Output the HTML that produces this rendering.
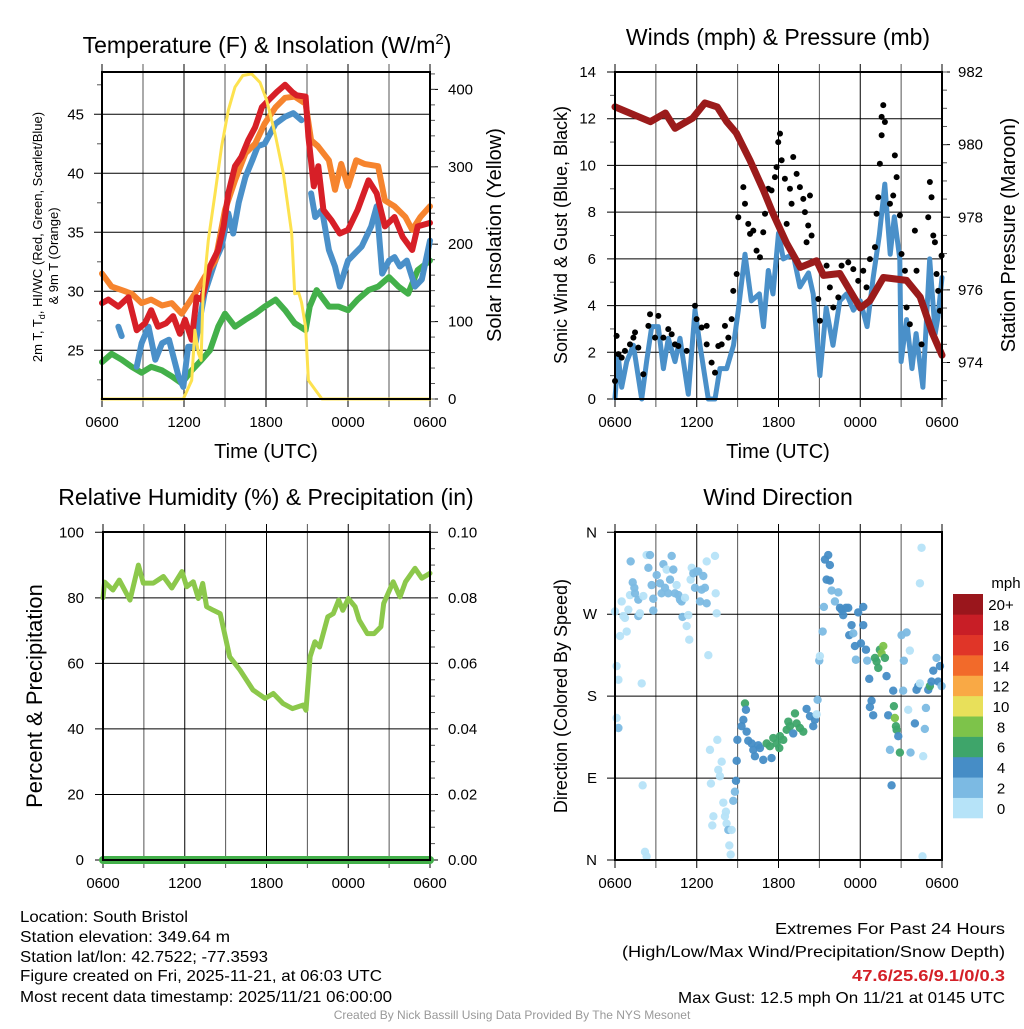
<!DOCTYPE html>
<html><head><meta charset="utf-8"><style>
html,body{margin:0;padding:0;background:#fff;}
svg text{font-family:"Liberation Sans",sans-serif;fill:#000;}
</style></head><body>
<svg id="fig" xmlns="http://www.w3.org/2000/svg" width="1024" height="1024" viewBox="0 0 1024 1024">
<rect x="0" y="0" width="1024" height="1024" fill="#fff"/>
<g id="p1"></g>
<g id="p2"></g>
<g id="p3"></g>
<g id="p4"></g>
<g font-size="16">
<text x="20" y="922" textLength="168" lengthAdjust="spacingAndGlyphs">Location: South Bristol</text>
<text x="20" y="942" textLength="210" lengthAdjust="spacingAndGlyphs">Station elevation: 349.64 m</text>
<text x="20" y="962" textLength="248" lengthAdjust="spacingAndGlyphs">Station lat/lon: 42.7522; -77.3593</text>
<text x="20" y="981" textLength="362" lengthAdjust="spacingAndGlyphs">Figure created on Fri, 2025-11-21, at 06:03 UTC</text>
<text x="20" y="1002" textLength="372" lengthAdjust="spacingAndGlyphs">Most recent data timestamp: 2025/11/21 06:00:00</text>
</g>
<g font-size="16" text-anchor="end">
<text x="1005" y="934" textLength="230" lengthAdjust="spacingAndGlyphs">Extremes For Past 24 Hours</text>
<text x="1005" y="957" textLength="383" lengthAdjust="spacingAndGlyphs">(High/Low/Max Wind/Precipitation/Snow Depth)</text>
<text x="1005" y="981" font-weight="bold" textLength="153" lengthAdjust="spacingAndGlyphs" style="fill:#d42027">47.6/25.6/9.1/0/0.3</text>
<text x="1005" y="1003" textLength="327" lengthAdjust="spacingAndGlyphs">Max Gust: 12.5 mph On 11/21 at 0145 UTC</text>
</g>
<text x="512" y="1019" font-size="12" text-anchor="middle" style="fill:#999">Created By Nick Bassill Using Data Provided By The NYS Mesonet</text>
</svg>
<script>
// ---------- Panel 1 data ----------
const timeTicks = [0, 6, 12, 18, 24];
const timeTickLabels = ["0600", "1200", "1800", "0000", "0600"];
const tempTicks = [25, 30, 35, 40, 45];
const insTicks = [0, 100, 200, 300, 400];

const redT = [0,0.46,1.2,1.93,2.54,3.15,3.6,4.1,4.7,5.2,5.7,6.07,6.56,6.93,7.3,7.9,8.5,8.9,9.24,9.73,10.2,10.7,11.2,11.7,12.2,12.8,13.4,13.9,14.25,14.9,15.1,15.5,15.83,16.2,16.8,17.4,18.0,18.7,19.5,20.1,20.7,21.4,22.0,22.7,23.1,24];
const redV = [29.0,29.3,28.7,29.5,26.7,27.3,28.4,27,27.3,27.9,26.4,27.6,25.9,29.5,29.3,32.1,33.5,35.5,38.3,40.6,41.4,42.8,43.9,45.6,46.2,46.9,47.5,46.9,46.6,46.5,43.1,38.9,40.6,36.9,36.0,34.9,35.2,36.9,39.4,38.3,35.5,36.3,34.6,33.5,35.5,35.8];

const orT = [0,0.7,1.44,2.17,2.9,3.6,4.4,5.1,5.83,6.8,7.5,8.3,9.0,9.73,10.5,11.2,11.9,12.7,13.4,14.1,14.9,15.3,15.8,16.6,17.05,17.5,18.0,18.6,19.2,20.2,20.7,21.4,22.2,22.7,23.3,24];
const orV = [31.5,30.4,30.1,29.8,29,29.3,28.8,29,28.1,29.8,31.2,32.6,36.9,39.4,41.7,42.5,44.2,45.6,46.4,46.5,45.9,42.8,42.3,41.1,38.6,40.8,38.9,41.1,40.8,40.6,37.7,37.2,36.3,35.2,36.3,37.2];

const blT = [1.2,1.44,2.0,2.54,2.9,3.4,3.9,4.4,4.9,5.6,5.95,6.3,6.8,7.5,8.3,8.75,9.24,9.6,10,10.5,11,11.4,11.9,12.7,13.4,14,14.6,15.0,15.3,15.6,16.1,16.6,17.05,17.4,18,18.5,19,19.7,20.1,20.5,21,21.4,21.8,22.3,22.9,23.4,24];
const blV = [27,26.2,null,23.6,25.6,27,24.2,25.6,25.9,22.8,21.9,25.3,25.3,29.8,32.6,33.8,36.6,34.9,37.5,39.7,41.1,42.3,42.5,44.2,44.8,45.1,44.5,null,38.3,36.3,36.9,33.5,32.1,30.4,32.6,33.2,33.8,35.5,37.2,31.5,32.6,32.9,32.1,32.6,30.4,31,34.3];

const grT = [0,0.7,1.44,2.17,2.9,3.6,4.4,5.1,5.83,6.56,7.3,7.9,8.5,9.0,9.73,10.5,11.2,11.9,12.7,13.4,14.1,14.9,15.2,15.7,16.6,17.3,18,18.7,19.5,20.2,21,21.7,22.4,23.1,24];
const grV = [24,24.7,24.2,23.6,23.1,23.6,23.3,22.8,22.2,23.3,24.2,25,27,28.1,27,27.6,28.1,28.7,29.3,28.4,27.3,26.7,28.7,30.1,28.7,28.7,28.4,29.3,30.1,30.4,31.2,30.4,29.8,31.8,32.6];

const insT = [0,5.95,6.56,6.8,7.05,7.25,7.4,7.78,8.27,8.75,9.24,9.73,10.3,10.95,11.56,12.05,12.66,13.27,13.88,14.1,14.4,14.6,14.9,15.1,15.6,16.1,24];
const insV = [0,0,24,89,59,50,136,205,265,326,373,403,418,420,409,386,343,291,214,136,137,125,93,24,12,0,0];

// ---------- Panel 2 data ----------
const windTicks = [0, 2, 4, 6, 8, 10, 12, 14];
const presTicks = [974, 976, 978, 980, 982];
const presT = [0,2.6,3.7,4.4,5.7,6.6,7.5,8.2,8.9,9.9,10.9,11.6,12.6,13.6,14.8,15.3,16.5,18,18.7,19.7,21.4,22.4,23.3,24];
const presV = [981.04,980.63,980.87,980.45,980.73,981.15,981.04,980.63,980.32,979.57,978.74,978.1,977.28,976.62,976.8,976.4,976.45,975.5,975.7,976.34,976.26,975.8,974.8,974.2];
const windT = [0,0.24,0.49,0.86,1.35,1.96,2.32,2.69,3.18,3.55,3.91,4.4,4.77,5.38,5.87,6.24,6.85,7.34,7.7,8.2,8.7,9.05,9.54,10.0,10.6,10.9,11.25,11.6,12.0,12.35,13.08,13.57,14.2,14.55,15.04,15.5,16.0,16.5,17.0,17.5,18.0,18.5,18.95,19.4,19.8,20.2,20.5,20.9,21.0,21.4,21.8,22.1,22.6,23.1,23.5,23.7,24];
const windV = [0.05,1.8,0.5,1.6,2.3,0,1.6,3.1,3.1,1.3,2.6,1.6,2.6,0.2,3.8,2.3,0,0,1.3,1.3,2.3,3.8,6.2,4.2,4.5,3.1,5.5,4.5,7.1,6.0,6.2,4.8,5.4,4.5,1.0,3.9,2.3,4.2,4.5,3.8,4.2,3.1,5.2,7.0,9.2,6.2,7.8,6.0,1.6,3.4,1.3,2.8,0.5,6.0,2.8,3.5,5.2];
const gustT = [0,0.12,0.25,0.49,0.73,1.10,1.35,1.47,1.71,2.08,2.45,2.57,2.94,3.18,3.55,3.91,4.16,4.40,4.65,5.26,5.87,5.99,6.36,6.73,6.73,7.09,7.34,7.58,7.83,8.07,8.32,8.56,8.68,8.93,9.05,9.42,9.54,9.78,9.91,10.15,10.39,10.64,10.88,11.01,11.25,11.49,11.74,11.86,11.98,12.11,12.23,12.47,12.6,12.84,12.96,13.08,13.33,13.57,13.82,13.94,14.18,14.31,14.43,14.06,14.92,15.04,15.53,15.77,16.02,16.39,16.63,17.12,17.49,17.85,18.22,18.46,18.71,19.08,19.2,19.32,19.44,19.57,19.69,19.81,19.57,20.18,20.42,20.54,20.67,20.91,21.03,21.28,21.4,21.64,22.01,22.13,22.5,22.99,23.11,23.23,23.36,23.48,23.6,23.72,23.85,23.97];
const gustV = [0.77,2.70,1.92,1.77,2.06,2.34,2.63,2.85,2.20,1.06,3.13,3.63,2.63,3.56,2.63,2.99,2.77,2.34,2.27,2.06,3.99,3.42,3.06,3.13,2.34,1.56,1.13,2.27,2.34,3.13,2.63,3.42,4.63,5.35,7.78,9.07,8.36,7.50,7.07,7.21,6.35,6.07,7.14,7.93,9.00,8.93,9.50,9.93,11.0,11.36,10.22,9.43,7.5,9.0,8.36,10.36,9.64,9.07,8.57,8.0,7.43,8.71,7.0,6.71,4.28,3.35,5.71,4.78,3.92,4.35,5.71,5.85,5.56,5.06,5.49,4.78,5.99,6.50,7.93,8.64,10.07,11.29,12.58,11.86,12.08,8.36,8.71,10.43,9.50,7.86,6.21,5.49,3.92,3.20,7.21,5.49,2.34,7.78,9.29,8.64,7.0,6.71,5.35,4.63,3.78,6.14];

// ---------- Panel 3 data ----------
const rhTicks = [0, 20, 40, 60, 80, 100];
const prTickLabels = ["0.00", "0.02", "0.04", "0.06", "0.08", "0.10"];
const rhT = [0,0.12,0.73,1.2,1.98,2.6,2.96,3.7,4.43,5.05,5.8,6.14,6.63,7.0,7.32,7.6,8.1,8.6,9.3,10.05,11.0,11.9,12.5,13.2,13.9,14.7,14.9,15.2,15.55,15.9,16.5,16.9,17.3,17.6,18.0,18.5,18.8,19.4,19.9,20.4,20.6,21.3,21.8,22.2,22.9,23.4,24];
const rhV = [80,84.8,82.4,85.4,79.3,90,84.5,84.5,86.5,83,88,83.4,84.9,79.8,84.4,77.3,76.2,75.2,62,58,51.9,49.3,50.8,47.8,46.2,47.3,45.7,62,66.6,65,74.2,75.2,79.3,76.2,79.8,77.3,73.2,69.1,69.1,71.2,78.3,84.9,80.3,84.9,89,86,87.5];
const prT = [0, 24];
const prV = [0, 0];

// ---------- Panel 4 data ----------
const dirTicks = [0, 90, 180, 270, 360];
const dirTickLabels = ["N", "E", "S", "W", "N"];
const dirT = [0,0.12,0.25,0.12,0.25,0.37,0.49,0.61,0.73,0.86,0.98,1.1,1.15,1.3,1.42,1.47,1.71,1.71,1.83,1.96,2.03,2.08,2.2,2.32,2.32,2.45,2.57,2.69,2.81,2.81,3.06,3.3,3.42,3.55,3.67,3.79,3.91,4.04,4.16,4.28,4.4,4.52,4.65,4.77,4.89,4.96,5.14,5.26,5.38,5.45,5.55,5.63,5.75,5.87,5.99,6.11,6.24,6.36,6.48,6.6,6.73,6.73,6.85,6.97,7.04,7.14,7.22,7.34,7.39,7.46,7.51,7.58,7.7,7.83,7.95,8.07,8.14,8.19,8.32,8.39,8.49,8.56,8.68,8.8,8.88,8.93,8.98,9.29,9.42,9.54,9.61,9.66,9.78,10.03,10.15,10.27,10.52,10.64,10.88,11.13,11.37,11.49,11.62,11.86,12.06,12.11,12.35,12.6,12.72,12.84,13.08,13.21,13.33,13.57,13.82,14.06,14.31,14.55,14.67,14.8,14.87,14.99,15.04,15.24,15.33,15.41,15.53,15.65,15.77,15.77,15.9,16.14,16.39,16.51,16.63,16.75,16.95,17.12,17.19,17.36,17.49,17.61,17.68,17.85,18.05,18.22,18.22,18.42,18.51,18.66,18.83,18.71,18.95,19.08,19.2,19.32,19.44,19.57,19.69,19.81,19.93,20.05,20.18,20.3,20.42,20.47,20.54,20.62,20.67,20.79,20.91,21.03,21.15,21.2,21.4,21.52,21.64,21.69,22.01,22.13,22.26,22.38,22.38,22.5,22.57,22.62,22.74,22.82,22.99,23.11,23.23,23.36,23.6,23.72,23.85,23.97];
const dirV = [273,213,198,156,145,246,284,268,266,251,275,291,328,305,299,293,286,268,271,194,82,290,9,4,335,321,335,302,287,274,313,304,293,325,299,319,293,308,334,319,293,302,291,286,284,267,288,257,269,242,308,321,315,299,317,317,284,297,312,299,282,328,225,121,84,38,48,334,293,271,132,99,92,108,63,48,53,40,33,16,6,33,65,75,87,109,132,147,154,172,165,141,131,128,121,114,126,123,110,128,125,112,134,128,123,136,132,143,152,147,139,161,150,145,141,166,158,147,154,160,176,219,224,251,278,330,308,335,307,324,296,284,294,277,275,269,277,277,247,258,249,235,220,272,238,278,258,231,219,199,175,168,159,222,218,211,231,227,235,222,202,159,121,82,186,169,156,147,143,136,118,247,186,219,250,165,230,118,150,187,191,194,304,343,4,114,144,167,187,191,196,208,222,196,213,191];
const dirSpd = [1,1,1,1,3,1,1,1,1,1,1,1,3,3,3,3,3,3,1,1,1,1,1,1,1,3,3,3,3,3,3,3,3,3,3,1,3,3,3,3,3,1,3,3,3,3,1,1,1,1,1,1,3,3,3,3,3,3,3,3,3,1,1,1,1,1,1,1,1,1,1,1,1,1,1,1,1,1,3,1,1,1,3,3,5,5,5,5,5,7,5,5,5,5,5,5,5,5,5,7,7,5,7,7,7,7,7,7,7,7,5,7,7,7,7,5,5,5,5,1,3,3,1,3,3,5,5,5,5,5,3,3,3,5,5,5,5,5,5,5,3,5,3,5,5,5,5,5,3,5,5,5,5,7,7,7,7,9,9,7,5,5,3,5,5,7,9,7,7,5,7,3,3,3,3,1,1,3,5,5,5,1,1,1,1,1,3,3,5,7,5,5,3,5,5,3];
const cbLabels = ["0","2","4","6","8","10","12","14","16","18","20+"];
const cbColors = ["#b6e3f8","#7cbae3","#468dc6","#3ea56a","#7dc34a","#e8e05a","#f9a945","#f26a2a","#e03528","#c81e26","#9a161c"];

// ---------- helpers ----------
const NS = "http://www.w3.org/2000/svg";
function mk(parent, tag, attrs, txt) {
  const e = document.createElementNS(NS, tag);
  for (const k in attrs) e.setAttribute(k, attrs[k]);
  if (txt !== undefined) e.textContent = txt;
  parent.appendChild(e);
  return e;
}
function linear(d0, d1, r0, r1) { return v => r0 + (v - d0) * (r1 - r0) / (d1 - d0); }
function pathD(ts, vs, xf, yf) {
  let d = "", pen = false;
  for (let i = 0; i < ts.length; i++) {
    if (vs[i] === null) { pen = false; continue; }
    d += (pen ? "L" : "M") + xf(ts[i]).toFixed(1) + "," + yf(vs[i]).toFixed(1);
    pen = true;
  }
  return d;
}
function frame(g, B, xf) {
  for (let h = 0; h <= 24; h += 3) {
    const x = xf(h);
    const l = mk(g, "line", {x1: x, x2: x, y1: B.y0 - 8, y2: B.y1 + 8, stroke: (h % 6 === 0) ? "#000" : "#555", "stroke-width": 1});
    
    
  }
  for (let i = 0; i < timeTicks.length; i++) {
    const t = mk(g, "text", {x: xf(timeTicks[i]), y: B.y1 + 28, "font-size": 15, "text-anchor": "middle"}, timeTickLabels[i]);
    
    
  }
}
function hgrid(g, B, ys, long) {
  for (const y of ys) {
    const l = mk(g, "line", {x1: B.x0 - 8, x2: long ? B.x1 + 8 : B.x1, y1: y, y2: y, stroke: "#000", "stroke-width": 1});
    
    
  }
}
function box(g, B) {
  const r = mk(g, "rect", {x: B.x0, y: B.y0, width: B.x1 - B.x0, height: B.y1 - B.y0, fill: "none", stroke: "#000", "stroke-width": 2});
  
  
}
function minorTicks(g, x, y0, y1, step, dir) {
  for (let y = y0; y <= y1 + 0.1; y += step) {
    const l = mk(g, "line", {x1: x, x2: x + dir * 5, y1: y, y2: y, stroke: "#555", "stroke-width": 1});
    
    
  }
}
function title(g, x, y, txt, name, size) {
  const t = mk(g, "text", {x: x, y: y, "font-size": size || 23, "text-anchor": "middle"}, txt);
  
  
  return t;
}
function vtitle(g, x, y, txt, name, size) {
  const t = mk(g, "text", {x: x, y: y, "font-size": size || 20, "text-anchor": "middle", transform: "rotate(-90 " + x + " " + y + ")"}, txt);
  
  
  return t;
}
function line(g, d, color, w, name) {
  const p = mk(g, "path", {d: d, fill: "none", stroke: color, "stroke-width": w, "stroke-linejoin": "round", "stroke-linecap": "round"});
  
  
  return p;
}

// ---------- Panel 1 ----------
(function () {
  const g = document.getElementById("p1");
  const B = {x0: 102, x1: 430, y0: 72, y1: 399};
  const xf = linear(0, 24, B.x0, B.x1);
  const yT = linear(45, 25, 114.3, 350.3);
  const yI = linear(0, 400, 399, 89.4);
  frame(g, B, xf);
  hgrid(g, B, tempTicks.map(yT), false);
  minorTicks(g, B.x0, yT(47.5), yT(22.5), yT(42.5) - yT(47.5), -1);
  for (const v of insTicks) {
    const l = mk(g, "line", {x1: B.x1, x2: B.x1 + 8, y1: yI(v), y2: yI(v), stroke: "#000"});
    
    
    const t = mk(g, "text", {x: 448, y: yI(v) + 5, "font-size": 15}, String(v));
    
    
  }
  minorTicks(g, B.x1, yI(420), yI(0), yI(0) - yI(20), 1);
  for (const v of tempTicks) {
    const t = mk(g, "text", {x: 84, y: yT(v) + 5, "font-size": 15, "text-anchor": "end"}, String(v));
    
    
  }
  line(g, pathD(grT, grV, xf, yT), "#43b04a", 6, "dewpoint-line");
  line(g, pathD(blT, blV, xf, yT), "#4a90c9", 6, "heat-index-windchill-line");
  line(g, pathD(orT, orV, xf, yT), "#f6842e", 6, "temp-9m-line");
  line(g, pathD(redT, redV, xf, yT), "#d71f27", 6, "temp-2m-line");
  line(g, pathD(insT, insV, xf, yI), "#fde24f", 3, "insolation-line");
  box(g, B);
  const tt = title(g, 267, 53, "Temperature (F) & Insolation (W/m", "panel1-title", 23);
  const sup = mk(tt, "tspan", {dy: -9, "font-size": 15}, "2");
  
  
  const cl = mk(tt, "tspan", {dy: 9}, ")");
  
  
  title(g, 266, 458, "Time (UTC)", "x-axis-title", 20);
  vtitle(g, 501, 235, "Solar Insolation (Yellow)", "right-axis-title", 20);
  const a = vtitle(g, 42, 237, "2m T, T", "left-axis-title", 13);
  const sub = mk(a, "tspan", {dy: 3, "font-size": 9}, "d");
  
  
  const rest = mk(a, "tspan", {dy: -3}, ", HI/WC (Red, Green, Scarlet/Blue)");
  
  
  vtitle(g, 58, 256, "& 9m T (Orange)", "left-axis-title-line2", 13);
})();

// ---------- Panel 2 ----------
(function () {
  const g = document.getElementById("p2");
  const B = {x0: 615, x1: 942, y0: 72, y1: 399};
  const xf = linear(0, 24, B.x0, B.x1);
  const yW = linear(0, 14, 399, 72);
  const yP = linear(982, 974, 72, 362.5);
  frame(g, B, xf);
  hgrid(g, B, windTicks.map(yW), false);
  minorTicks(g, B.x0, yW(13), yW(1), yW(1) - yW(3), -1);
  for (const v of windTicks) {
    const t = mk(g, "text", {x: 596, y: yW(v) + 5, "font-size": 15, "text-anchor": "end"}, String(v));
    
    
  }
  for (const v of presTicks) {
    const l = mk(g, "line", {x1: B.x1, x2: B.x1 + 8, y1: yP(v), y2: yP(v), stroke: "#000"});
    
    
    const t = mk(g, "text", {x: 958, y: yP(v) + 5, "font-size": 15}, String(v));
    
    
  }
  minorTicks(g, B.x1, yP(982), yP(973), yP(981.5) - yP(982), 1);
  line(g, pathD(windT, windV, xf, yW), "#4a90c9", 5, "sonic-wind-line");
  for (let i = 0; i < gustT.length; i++) {
    const c = mk(g, "circle", {cx: xf(gustT[i]), cy: yW(gustV[i]), r: 3, fill: "#000"});
    
    
  }
  line(g, pathD(presT, presV, xf, yP), "#9b1b1b", 7, "pressure-line");
  box(g, B);
  title(g, 778, 45, "Winds (mph) & Pressure (mb)", "panel2-title", 23);
  title(g, 778, 458, "Time (UTC)", "x-axis-title", 20);
  vtitle(g, 567, 235, "Sonic Wind & Gust (Blue, Black)", "left-axis-title", 18);
  vtitle(g, 1015, 235, "Station Pressure (Maroon)", "right-axis-title", 20);
})();

// ---------- Panel 3 ----------
(function () {
  const g = document.getElementById("p3");
  const B = {x0: 103, x1: 430, y0: 532, y1: 860};
  const xf = linear(0, 24, B.x0, B.x1);
  const yR = linear(0, 100, 860, 532.3);
  const yPr = linear(0, 0.1, 860, 532.3);
  frame(g, B, xf);
  hgrid(g, B, rhTicks.map(yR), true);
  minorTicks(g, B.x0, yR(10), yR(90), yR(90) - yR(70), -1);
  minorTicks(g, B.x1, yR(95), yR(5), yR(0) - yR(5), 1);
  for (let i = 0; i < rhTicks.length; i++) {
    const t = mk(g, "text", {x: 84, y: yR(rhTicks[i]) + 5, "font-size": 15, "text-anchor": "end"}, String(rhTicks[i]));
    
    
    const t2 = mk(g, "text", {x: 448, y: yR(rhTicks[i]) + 5, "font-size": 15}, prTickLabels[i]);
    
    
  }
  line(g, pathD(rhT, rhV, xf, yR), "#8cc84b", 5, "humidity-line");
  line(g, pathD(prT, prV, xf, yPr), "#43b04a", 8, "precipitation-line");
  box(g, B);
  title(g, 266, 505, "Relative Humidity (%) & Precipitation (in)", "panel3-title", 23);
  vtitle(g, 42, 696, "Percent & Precipitation", "left-axis-title", 22);
})();

// ---------- Panel 4 ----------
(function () {
  const g = document.getElementById("p4");
  const B = {x0: 615, x1: 942, y0: 532, y1: 860};
  const xf = linear(0, 24, B.x0, B.x1);
  const yD = linear(0, 360, 860, 532.3);
  frame(g, B, xf);
  hgrid(g, B, dirTicks.map(yD), false);
  for (let i = 0; i < dirTicks.length; i++) {
    const t = mk(g, "text", {x: 597, y: yD(dirTicks[i]) + 5, "font-size": 15, "text-anchor": "end"}, dirTickLabels[i]);
    
    
  }
  const colorFor = s => cbColors[Math.min(10, Math.floor(s / 2))];
  for (let i = 0; i < dirT.length; i++) {
    const c = mk(g, "circle", {cx: xf(dirT[i]), cy: yD(dirV[i]), r: 4.2, fill: colorFor(dirSpd[i]), "fill-opacity": 0.95});
    
    
  }
  box(g, B);
  title(g, 778, 505, "Wind Direction", "panel4-title", 23);
  vtitle(g, 567, 696, "Direction (Colored By Speed)", "left-axis-title", 18);
  const cb = mk(g, "g", {});
  
  
  const h = (818 - 594) / cbColors.length;
  for (let i = 0; i < cbColors.length; i++) {
    const yy = 818 - (i + 1) * h;
    const r = mk(cb, "rect", {x: 953, y: yy, width: 30, height: h + 0.3, fill: cbColors[i]});
    
    
    const t = mk(cb, "text", {x: 1001, y: yy + h / 2 + 6, "font-size": 15, "text-anchor": "middle"}, cbLabels[i]);
    
    
  }
  const u = mk(cb, "text", {x: 1006, y: 588, "font-size": 15, "text-anchor": "middle"}, "mph");
  
  
})();
</script>
</body></html>
